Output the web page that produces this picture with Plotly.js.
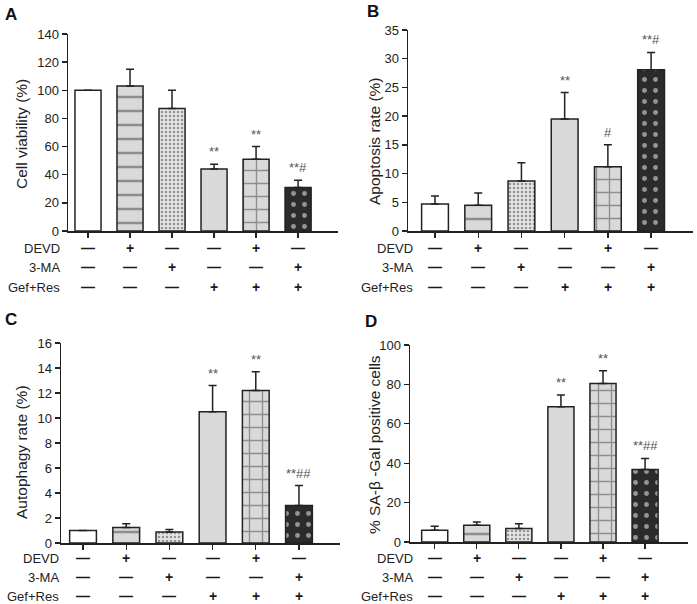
<!DOCTYPE html>
<html>
<head>
<meta charset="utf-8">
<script src="https://cdn.plot.ly/plotly-3.0.1.min.js"></script>
<style>html,body{margin:0;padding:0;background:#fff;}#chart{width:697px;height:604px;}</style>
</head>
<body>
<div id="chart"></div>
<script>
// ---------- data ----------
const groups = ['Control', 'DEVD', '3-MA', 'Gef+Res', 'Gef+Res+DEVD', 'Gef+Res+3-MA'];
const rowLabels = ['DEVD', '3-MA', 'Gef+Res'];
const devdSigns = ['—', '+', '—', '—', '+', '—'];
const maSigns = ['—', '—', '+', '—', '—', '+'];
const gefResSigns = ['—', '—', '—', '+', '+', '+'];

const viability = [100, 103, 87, 44, 51, 31];
const viabilityErr = [0, 12, 13, 3.5, 9, 5];
const viabilitySig = ['', '', '', '**', '**', '**#'];

const apoptosis = [4.7, 4.5, 8.7, 19.5, 11.2, 28.1];
const apoptosisErr = [1.4, 2.1, 3.2, 4.6, 3.8, 3.0];
const apoptosisSig = ['', '', '', '**', '#', '**#'];

const autophagy = [1.0, 1.25, 0.88, 10.5, 12.2, 3.0];
const autophagyErr = [0, 0.3, 0.2, 2.1, 1.5, 1.6];
const autophagySig = ['', '', '', '**', '**', '**##'];

const sagal = [6, 8.5, 6.8, 68.6, 80.5, 36.8];
const sagalErr = [2, 1.7, 2.5, 6, 6.4, 5.6];
const sagalSig = ['', '', '', '**', '**', '**##'];

const yTitles = ['Cell viability (%)', 'Apoptosis rate (%)', 'Autophagy rate (%)', '% SA-β -Gal positive cells'];
const panelLetters = ['A', 'B', 'C', 'D'];

// ---------- styles ----------
const W = 697, H = 604;
const FONT = 'Liberation Sans, Arial, sans-serif';
const INK = '#222';
const barBg = ['#ffffff', '#d9d9d9', '#e4e4e4', '#d9d9d9', '#d9d9d9', '#2b2b2b'];
const patShape = ['', '-', '.', '', '+', '.'];
const patFg = ['#000000', '#000000', '#333333', '#000000', '#000000', '#ffffff'];
const patSize = [8, 14, 4, 8, 13, 11];
const patSolid = [0.1, 0.18, 0.3, 0.1, 0.2, 0.16];

const panels = [
  {vals: viability, errs: viabilityErr, sig: viabilitySig, ymax: 140, dtick: 20,
   px: [68, 338], py: [34, 231], xr: [-0.476, 5.95],
   rowsY: [248, 267, 287], labRight: 62, titleX: 21, titleY: 134, letter: [3, 14]},
  {vals: apoptosis, errs: apoptosisErr, sig: apoptosisSig, ymax: 35, dtick: 5,
   px: [408, 693], py: [30, 231], xr: [-0.625, 5.97],
   rowsY: [248, 267, 287], labRight: 415, titleX: 374, titleY: 141, letter: [365, 12]},
  {vals: autophagy, errs: autophagyErr, sig: autophagySig, ymax: 16, dtick: 2,
   px: [61, 340], py: [343, 543], xr: [-0.51, 5.95],
   rowsY: [558, 577, 596], labRight: 61, titleX: 21, titleY: 452, letter: [3, 319]},
  {vals: sagal, errs: sagalErr, sig: sagalSig, ymax: 100, dtick: 20,
   px: [410, 688], py: [345, 542], xr: [-0.587, 6.02],
   rowsY: [558, 577, 596], labRight: 415, titleX: 374, titleY: 445, letter: [363, 321]}
];
const signRows = [devdSigns, maSigns, gefResSigns];

const traces = [];
const annotations = [];
const layout = {
  width: W, height: H,
  margin: {l: 0, r: 0, t: 0, b: 0},
  paper_bgcolor: '#fff', plot_bgcolor: 'rgba(0,0,0,0)',
  showlegend: false,
  font: {family: FONT, color: INK, size: 13},
  annotations: annotations
};

panels.forEach((p, k) => {
  const n = k + 1;
  const xa = 'xaxis' + (n === 1 ? '' : n);
  const ya = 'yaxis' + (n === 1 ? '' : n);
  const xr = 'x' + (n === 1 ? '' : n);
  const yr = 'y' + (n === 1 ? '' : n);

  traces.push({
    type: 'bar', x: groups, y: p.vals, xaxis: xr, yaxis: yr, width: 0.62,
    marker: {
      color: barBg,
      line: {color: INK, width: 1.5},
      pattern: {shape: patShape, fgcolor: patFg, bgcolor: barBg, size: patSize, solidity: patSolid, fillmode: 'overlay'}
    },
    error_y: {type: 'data', symmetric: false, array: p.errs, arrayminus: p.errs.map(() => 0),
              color: INK, thickness: 1.5, width: 4},
    hoverinfo: 'skip'
  });

  layout[xa] = {
    domain: [p.px[0] / W, p.px[1] / W], anchor: yr, range: p.xr,
    type: 'category', tickmode: 'array', tickvals: groups,
    showticklabels: false, ticks: 'outside', ticklen: 5, tickwidth: 1.3, tickcolor: INK,
    showline: true, linecolor: INK, linewidth: 1.5, showgrid: false, zeroline: false, fixedrange: true
  };
  layout[ya] = {
    domain: [1 - p.py[1] / H, 1 - p.py[0] / H], anchor: xr, range: [0, p.ymax], dtick: p.dtick,
    ticks: 'outside', ticklen: 5, tickwidth: 1.3, tickcolor: INK,
    showline: true, linecolor: INK, linewidth: 1.5, showgrid: false, zeroline: false,
    tickfont: {family: FONT, size: 13, color: INK}, fixedrange: true
  };

  // significance marks
  p.sig.forEach((s, i) => {
    if (!s) return;
    annotations.push({xref: xr, yref: yr, x: groups[i], y: p.vals[i] + p.errs[i],
      text: s, showarrow: false, yanchor: 'bottom', yshift: 3,
      font: {family: FONT, size: 13, color: '#555'}});
  });

  // treatment table
  signRows.forEach((row, r) => {
    const yp = 1 - p.rowsY[r] / H;
    annotations.push({xref: 'paper', yref: 'paper', x: p.labRight / W, y: yp,
      text: rowLabels[r], showarrow: false, xanchor: 'right', yanchor: 'middle',
      font: {family: FONT, size: 13, color: INK}});
    row.forEach((s, i) => {
      annotations.push({xref: xr, yref: 'paper', x: groups[i], y: yp,
        text: '<b>' + s + '</b>', showarrow: false, xanchor: 'center', yanchor: 'middle',
        font: {family: FONT, size: 14, color: '#1a1a1a'}});
    });
  });

  // y-axis title
  annotations.push({xref: 'paper', yref: 'paper', x: p.titleX / W, y: 1 - p.titleY / H,
    text: yTitles[k], textangle: -90, showarrow: false, xanchor: 'center', yanchor: 'middle',
    font: {family: FONT, size: 15.5, color: INK}});

  // panel letter
  annotations.push({xref: 'paper', yref: 'paper', x: p.letter[0] / W, y: 1 - p.letter[1] / H,
    text: '<b>' + panelLetters[k] + '</b>', showarrow: false, xanchor: 'left', yanchor: 'middle',
    font: {family: FONT, size: 17, color: '#111'}});
});

Plotly.newPlot('chart', traces, layout, {displayModeBar: false, staticPlot: true});
</script>
</body>
</html>
